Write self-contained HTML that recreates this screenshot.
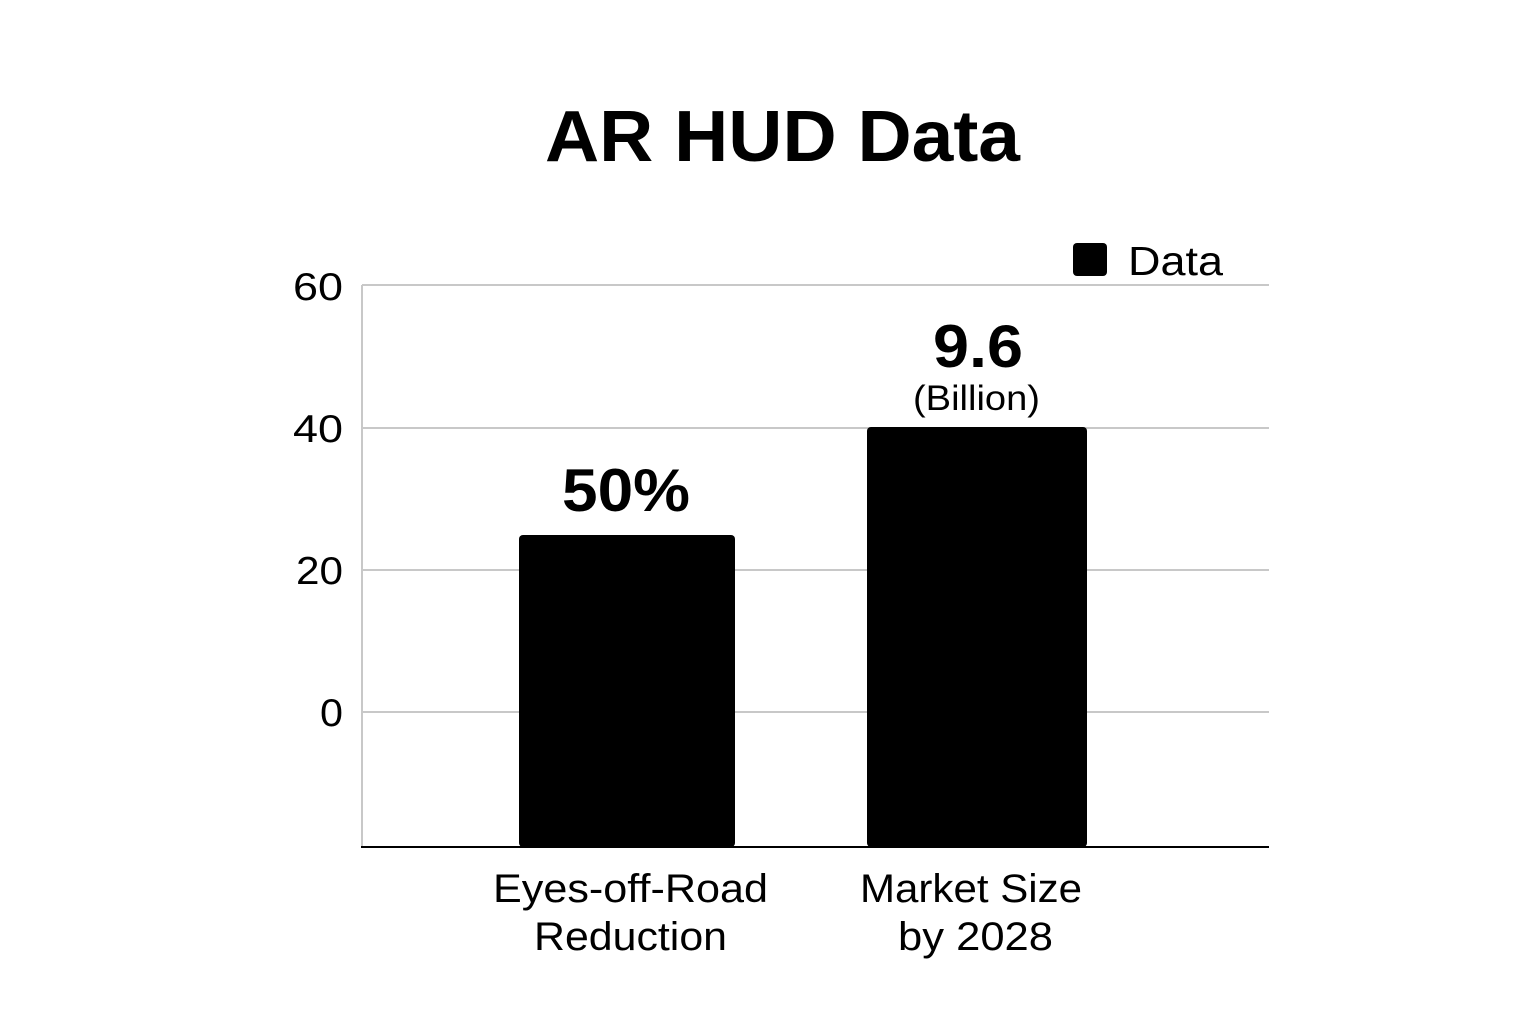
<!DOCTYPE html>
<html><head><style>
body{margin:0;background:#fff;}
svg{display:block}
text{font-family:"Liberation Sans",sans-serif;fill:#000}
</style></head><body>
<svg width="1536" height="1024" viewBox="0 0 1536 1024">
<text x="545" y="161" font-size="72" font-weight="bold" textLength="475" lengthAdjust="spacingAndGlyphs">AR HUD Data</text>
<rect x="1073" y="243" width="34" height="33" rx="4" fill="#000"/>
<text x="1128" y="275" font-size="41" textLength="95" lengthAdjust="spacingAndGlyphs">Data</text>
<g stroke="#c8c8c8" stroke-width="2">
<line x1="362" y1="285" x2="1269" y2="285"/>
<line x1="362" y1="428" x2="1269" y2="428"/>
<line x1="362" y1="570" x2="1269" y2="570"/>
<line x1="362" y1="712" x2="1269" y2="712"/>
<line x1="362" y1="285" x2="362" y2="847"/>
</g>
<line x1="361" y1="847" x2="1269" y2="847" stroke="#000" stroke-width="2"/>
<g font-size="39">
<text x="293" y="300" textLength="50" lengthAdjust="spacingAndGlyphs">60</text>
<text x="293" y="442" textLength="50" lengthAdjust="spacingAndGlyphs">40</text>
<text x="296" y="584" textLength="47" lengthAdjust="spacingAndGlyphs">20</text>
<text x="320" y="726" textLength="23" lengthAdjust="spacingAndGlyphs">0</text>
</g>
<rect x="519" y="535" width="216" height="312" rx="4" fill="#000"/>
<rect x="867" y="427" width="220" height="420" rx="4" fill="#000"/>
<text x="562" y="511" font-size="60" font-weight="bold" textLength="128" lengthAdjust="spacingAndGlyphs">50%</text>
<text x="933" y="367" font-size="60" font-weight="bold" textLength="90" lengthAdjust="spacingAndGlyphs">9.6</text>
<text x="913" y="410" font-size="35" textLength="127" lengthAdjust="spacingAndGlyphs">(Billion)</text>
<g font-size="40">
<text x="493" y="902" textLength="275" lengthAdjust="spacingAndGlyphs">Eyes-off-Road</text>
<text x="534" y="950" textLength="193" lengthAdjust="spacingAndGlyphs">Reduction</text>
<text x="860" y="902" textLength="222" lengthAdjust="spacingAndGlyphs">Market Size</text>
<text x="898" y="950" textLength="155" lengthAdjust="spacingAndGlyphs">by 2028</text>
</g>
</svg>
</body></html>
